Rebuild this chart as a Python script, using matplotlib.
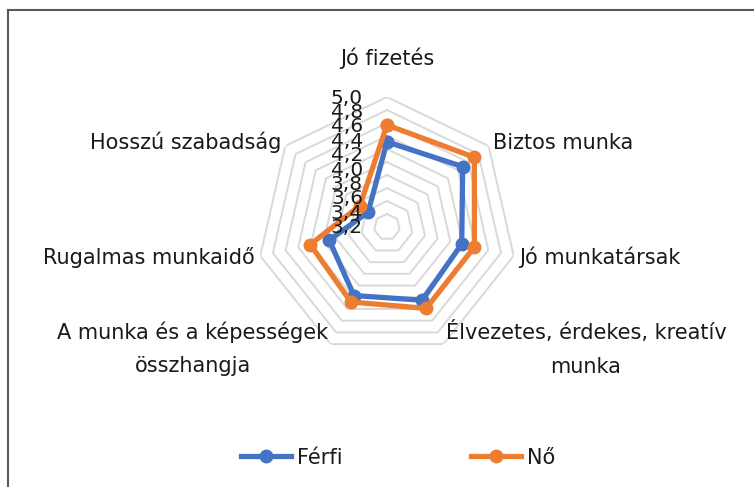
import matplotlib.pyplot as plt
import numpy as np
from matplotlib.lines import Line2D
from matplotlib.transforms import offset_copy

categories = ['Jó fizetés', 'Biztos munka', 'Jó munkatársak',
              'Élvezetes, érdekes, kreatív\nmunka',
              'A munka és a képességek\nösszhangja',
              'Rugalmas munkaidő', 'Hosszú szabadság']
ferfi = [4.31, 4.49, 4.18, 4.25, 4.17, 3.91, 3.37]
no = [4.57, 4.72, 4.38, 4.39, 4.28, 4.21, 3.53]
ticks = [3.2, 3.4, 3.6, 3.8, 4.0, 4.2, 4.4, 4.6, 4.8, 5.0]
tick_labels = ['3,2', '3,4', '3,6', '3,8', '4,0', '4,2', '4,4', '4,6', '4,8', '5,0']

plt.rcParams['font.family'] = ['DejaVu Sans']
txt = '#1a1a1a'
fs = 15

fig = plt.figure(figsize=(7.54, 4.87), dpi=100)
ax = fig.add_axes([0.3408, 0.2669, 0.3448, 0.5339], projection='polar')
ax.set_theta_zero_location('N')
ax.set_theta_direction(-1)
ax.set_ylim(3.0, 5.0)
ax.grid(False)
ax.spines['polar'].set_visible(False)
ax.set_xticks([])
ax.set_yticks([])

n = len(categories)
ang = np.linspace(0, 2 * np.pi, n, endpoint=False)
ang_c = np.append(ang, ang[0])

# heptagon rings
for v in ticks:
    ax.plot(ang_c, [v] * (n + 1), color='#d9d9d9', lw=1.4, zorder=1)

for vals, col, lab in [(ferfi, '#4472c4', 'Férfi'), (no, '#ed7d31', 'Nő')]:
    ax.plot(ang_c, vals + vals[:1], color=col, lw=3.8, marker='o', ms=9,
            label=lab, zorder=3, clip_on=False)

# radial tick labels
for i, (v, s) in enumerate(zip(ticks, tick_labels)):
    k = len(ticks) - 1 - i
    tr = offset_copy(ax.transData, fig=fig, x=-24, y=-(1 + 1.4 * k), units='dots')
    ax.text(0, v, s, transform=tr, ha='right', va='center', fontsize=14.5,
            color=txt, zorder=4)

# category labels
lab_r = [5.6, 5.08, 5.08, 5.08, 5.08, 5.08, 5.08]
has = ['center', 'left', 'left', 'left', 'right', 'right', 'right']
for a, c, r, h in zip(ang, categories, lab_r, has):
    ax.text(a, r, c, ha=h, va='center', multialignment='center',
            fontsize=fs, color=txt, linespacing=1.85)

fig.legend(loc='center', bbox_to_anchor=(0.528, 0.06), ncol=2, frameon=False,
           fontsize=fs, handlelength=2.4, handletextpad=0.25,
           columnspacing=6.2, labelcolor=txt)

# chart border (top and left only visible)
fig.add_artist(Line2D([7.5 / 754, 1], [1 - 10 / 487, 1 - 10 / 487],
                      color='#595959', lw=1.5, transform=fig.transFigure))
fig.add_artist(Line2D([7.5 / 754, 7.5 / 754], [0, 1 - 10 / 487],
                      color='#595959', lw=1.5, transform=fig.transFigure))

plt.savefig('out.png', dpi=100)
